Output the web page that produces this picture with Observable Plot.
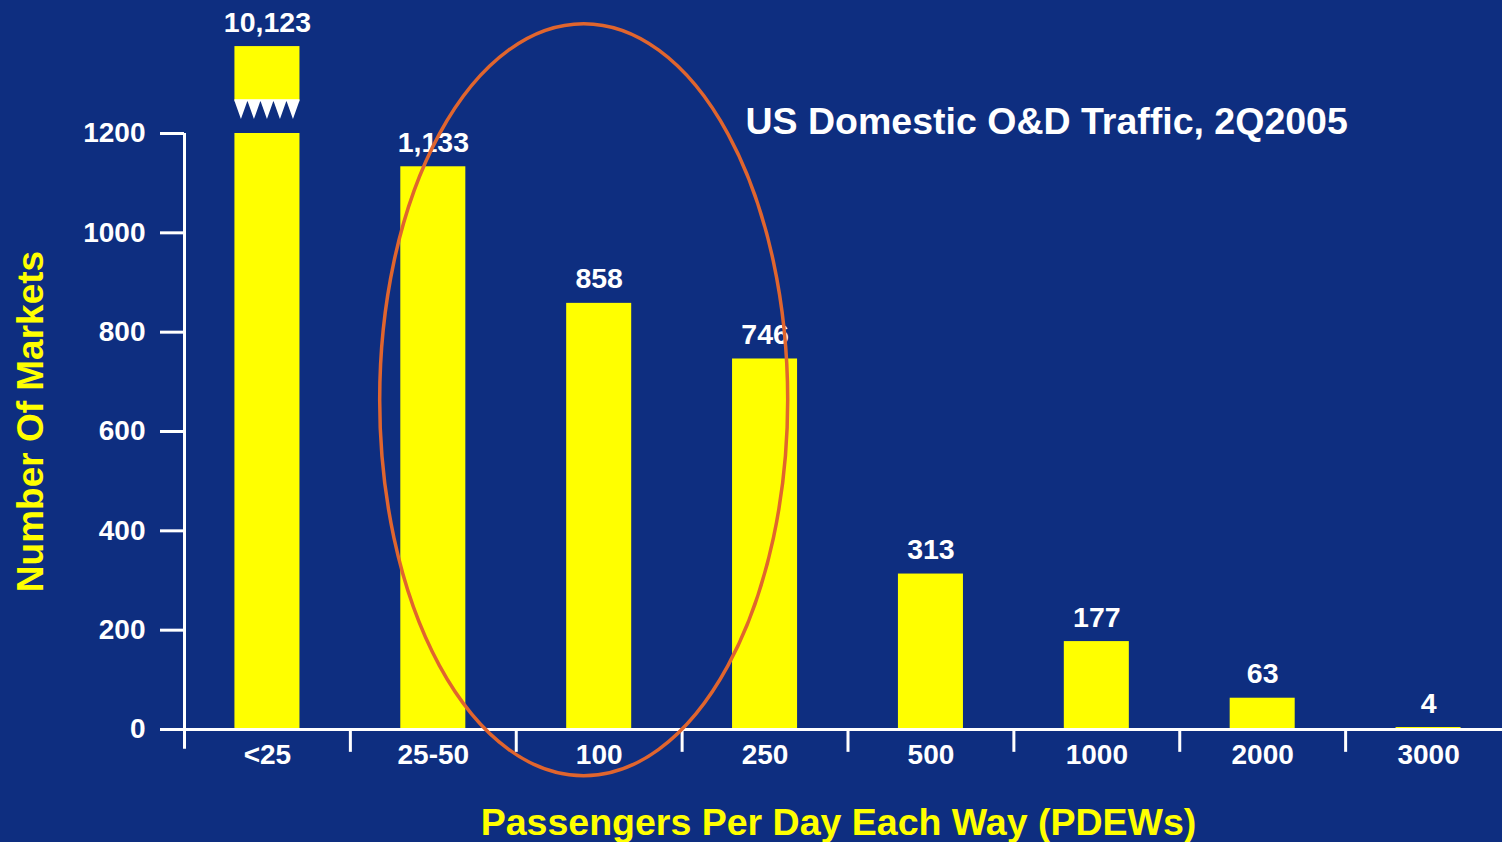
<!DOCTYPE html>
<html>
<head>
<meta charset="utf-8">
<script src="https://cdn.jsdelivr.net/npm/d3@7"></script>
<script src="https://cdn.jsdelivr.net/npm/@observablehq/plot@0.6"></script>
<style>
  html, body { margin: 0; padding: 0; background: #0e2e80; overflow: hidden; }
  #chart svg { display: block; }
</style>
</head>
<body>
<div id="chart"></div>
<script>
// ---- data ----
const categories = ["<25", "25-50", "100", "250", "500", "1000", "2000", "3000"];
const markets = [10123, 1133, 858, 746, 313, 177, 63, 4];
const yTicks = [0, 200, 400, 600, 800, 1000, 1200];
const titleText = "US Domestic O&D Traffic, 2Q2005";
const xLabelText = "Passengers Per Day Each Way (PDEWs)";
const yLabelText = "Number Of Markets";
const circledCategory = "100";

// ---- display settings (axis break for the off-scale bar) ----
const axisMax = 1200;      // top of the drawn axis
const capBottom = 1265;    // broken bar: bottom of the top cap
const capTop = 1375;       // broken bar: top of the top cap
const teethBottom = 1228;  // tip of the break triangles

const rows = categories.map((c, i) => ({cat: c, value: markets[i]}));
const fmt = d3.format(",");

const BG = "#0e2e80", YELLOW = "#ffff00", WHITE = "#ffffff";
const FONT = "'Liberation Sans', Arial, Helvetica, sans-serif";

const width = 1502, height = 842;
const xRange = [184, 1511];
const step = (xRange[1] - xRange[0]) / categories.length;

const plot = Plot.plot({
  width, height,
  marginLeft: 184, marginRight: 0, marginTop: 133, marginBottom: 113,
  style: {background: BG, fontFamily: FONT, overflow: "visible"},
  x: {domain: categories, range: xRange, paddingInner: 0.608, paddingOuter: 0.304, align: 0.5, round: false, axis: null},
  y: {domain: [0, axisMax], axis: null},
  marks: [
    Plot.barY(rows, {x: "cat", y: d => Math.min(d.value, axisMax), fill: YELLOW}),
    Plot.barY(rows.filter(d => d.value > axisMax), {x: "cat", y1: capBottom, y2: capTop, fill: YELLOW}),
    Plot.axisY({ticks: yTicks, tickFormat: "d", tickSize: 24, tickPadding: 15, stroke: WHITE, strokeWidth: 3,
      fill: WHITE, fontSize: 28, fontWeight: "bold", label: null}),
    Plot.axisX({tickSize: 0, tickPadding: 15, fill: WHITE, fontSize: 28, fontWeight: "bold", label: null}),
    Plot.ruleY([0], {stroke: WHITE, strokeWidth: 3}),
    Plot.ruleX(categories.slice(1), {x: d => d, dx: -step / 2, y1: 0, y2: -46, stroke: WHITE, strokeWidth: 3}),
    Plot.ruleX([categories[0]], {x: d => d, dx: -step / 2, y1: -40, y2: axisMax, stroke: WHITE, strokeWidth: 3}),
    Plot.text(rows, {x: "cat", y: d => d.value > axisMax ? capTop : d.value, text: d => fmt(d.value),
      dy: -15, lineAnchor: "bottom", fill: WHITE, fontSize: 28.5, fontWeight: "bold"}),
    Plot.text([titleText], {frameAnchor: "top-left", dx: 561, dy: 0, lineAnchor: "bottom", textAnchor: "start",
      fill: WHITE, fontSize: 37.5, fontWeight: "bold"}),
    Plot.text([xLabelText], {frameAnchor: "bottom", dx: -5, dy: 105, lineAnchor: "bottom", textAnchor: "middle",
      fill: YELLOW, fontSize: 37.5, fontWeight: "bold"}),
    Plot.text([yLabelText], {frameAnchor: "left", rotate: -90, dx: -142, dy: -10, lineAnchor: "bottom", textAnchor: "middle",
      fill: YELLOW, fontSize: 37, fontWeight: "bold"})
  ]
});

// ---- decorations positioned through the plot's own scales ----
const xs = plot.scale("x"), ys = plot.scale("y");
const svg = d3.select(plot);
const bw = xs.bandwidth;

// break teeth on the off-scale bar
rows.filter(d => d.value > axisMax).forEach(d => {
  const x0 = xs.apply(d.cat);
  const n = 5, tw = bw / n;
  const yt = ys.apply(capBottom), yb = ys.apply(teethBottom);
  let path = `M${x0},${yt}`;
  for (let k = 0; k < n; k++) {
    path += `L${x0 + tw * (k + 0.5)},${yb}L${x0 + tw * (k + 1)},${yt}`;
  }
  path += "Z";
  svg.append("path").attr("d", path).attr("fill", WHITE);
  svg.append("rect").attr("x", x0).attr("y", yt - 1.5).attr("width", bw).attr("height", 2).attr("fill", WHITE);
});

// highlight ellipse around the mid-range markets
svg.append("ellipse")
  .attr("cx", xs.apply(circledCategory) + bw / 2 - 15)
  .attr("cy", ys.apply(663))
  .attr("rx", 204)
  .attr("ry", 376)
  .attr("fill", "none")
  .attr("stroke", "#e0652e")
  .attr("stroke-width", 3.5);

document.getElementById("chart").appendChild(plot);
</script>
</body>
</html>
